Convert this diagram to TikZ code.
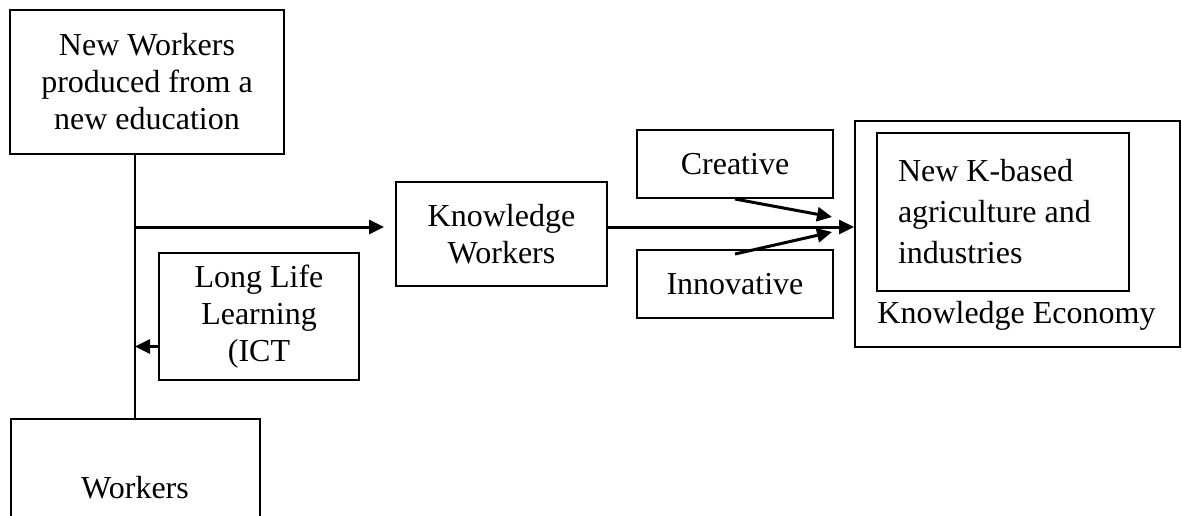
\documentclass[tikz,border=0pt]{standalone}
\usepackage{fontspec}
\setmainfont{Liberation Serif}
\usetikzlibrary{arrows.meta}
\tikzset{>={Triangle[length=7.5pt,width=7pt]}}
\tikzset{box/.style={draw, line width=1pt, inner sep=0pt, align=center, font=\fontsize{16}{18.5}\selectfont}}
\tikzset{flow/.style={->, line width=1.5pt}}

\begin{document}
\begin{tikzpicture}[x=0.5pt, y=-0.5pt]
            \clip (0,0) rectangle (1182,515);
            \node[box, minimum width=137pt, minimum height=72pt] (newwk) at (147,82) {New Workers\\produced from a\\new education};
            \node[box, minimum width=124.5pt, minimum height=69pt] (wk) at (135,488) {Workers};
            \node[box, minimum width=100pt, minimum height=63.5pt] (lll) at (259,316.5) {Long Life\\Learning\\(ICT};
            \node[box, minimum width=105.5pt, minimum height=52pt] (knw) at (501.5,234) {Knowledge\\Workers};
            \node[box, minimum width=98pt, minimum height=34pt] (creat) at (735,164) {Creative};
            \node[box, minimum width=98pt, minimum height=34pt] (innov) at (735,284) {Innovative};
            \node[box, minimum width=162.5pt, minimum height=113pt] (econ) at (1017.5,234) {};
            \node[box, align=flush left, text width=105pt, inner xsep=10.5pt, minimum height=79pt, font=\fontsize{16}{20.5}\selectfont] (kbased) at (1003,212) {New K-based\\agriculture and\\industries};
            \node[anchor=base west, inner sep=0pt, font=\fontsize{16}{18.5}\selectfont] (kecon) at (877,323) {Knowledge Economy};

            \coordinate (jn) at (135,227);
            \coordinate (kin) at ([xshift=-5.5pt]knw.west);
            \coordinate (llout) at ([yshift=-15pt]lll.west);
            \coordinate (ctip) at (832,217);
            \coordinate (itip) at (832,232);

            \draw[line width=1pt] (wk.north) -- (wk.north |- newwk.south);
            \draw[flow] (jn) -- (kin |- jn);
            \draw[flow] (llout) -- (llout -| jn);
            \draw[flow] (knw.east |- jn) -- (econ.west |- jn);
            \draw[flow] (creat.south) -- (ctip);
            \draw[flow] ([yshift=-2.5pt]innov.north) -- (itip);
        \end{tikzpicture}
\end{document}
